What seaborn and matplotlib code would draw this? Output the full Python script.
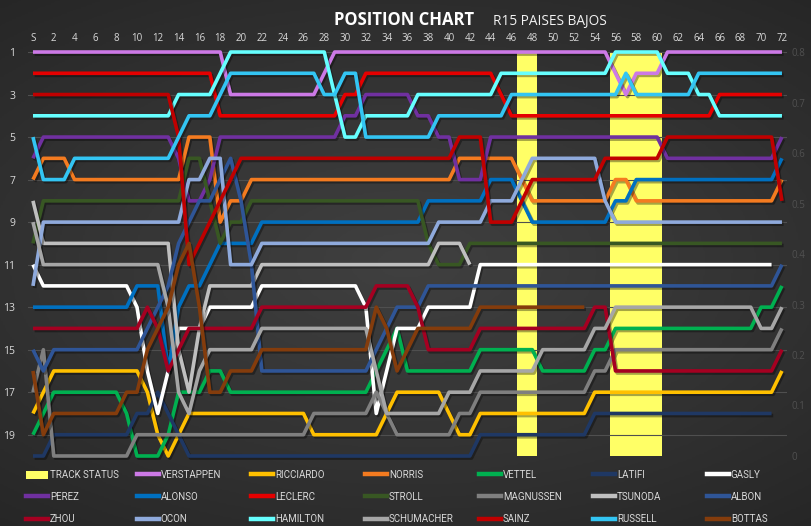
import numpy as np
import pandas as pd
import matplotlib
matplotlib.use('Agg')
import matplotlib.pyplot as plt
import matplotlib.patheffects as pe
from matplotlib.lines import Line2D
from matplotlib.patches import Patch
from matplotlib.colors import LinearSegmentedColormap
import seaborn as sns

# series order as in the source legend (row by row)
drivers = ['VERSTAPPEN', 'RICCIARDO', 'NORRIS', 'VETTEL', 'LATIFI', 'GASLY',
           'PEREZ', 'ALONSO', 'LECLERC', 'STROLL', 'MAGNUSSEN', 'TSUNODA', 'ALBON',
           'ZHOU', 'OCON', 'HAMILTON', 'SCHUMACHER', 'SAINZ', 'RUSSELL', 'BOTTAS']
colors = ['#CC79E6', '#FFC000', '#F47B20', '#00B050', '#1F3864', '#FFFFFF',
          '#7030A0', '#0070C0', '#E50000', '#385723', '#7F7F7F', '#BFBFBF', '#2F5597',
          '#A50021', '#8FAADC', '#66FFFF', '#A6A6A6', '#C00000', '#33C5F3', '#843C0C']

# race position per lap, index 0 = start (S)
verstappen = [1, 1, 1, 1, 1, 1, 1, 1, 1, 1, 1, 1, 1, 1, 1, 1, 1, 1, 1, 3,
              3, 3, 3, 3, 3, 3, 3, 3, 2, 1, 1, 1, 1, 1, 1, 1, 1, 1, 1, 1,
              1, 1, 1, 1, 1, 1, 1, 1, 1, 1, 1, 1, 1, 1, 1, 1, 2, 3, 2, 2,
              2, 1, 1, 1, 1, 1, 1, 1, 1, 1, 1, 1, 1]
ricciardo = [18, 17, 16, 16, 16, 16, 16, 16, 16, 16, 16, 17, 19, 20, 19, 18, 18, 18, 18, 18,
             18, 18, 18, 18, 18, 18, 18, 19, 19, 19, 19, 19, 19, 19, 18, 17, 17, 17, 17, 17,
             18, 19, 19, 18, 18, 18, 18, 18, 18, 18, 18, 18, 18, 18, 17, 17, 17, 17, 17, 17,
             17, 17, 17, 17, 17, 17, 17, 17, 17, 17, 17, 17, 16]
norris = [7, 6, 6, 6, 7, 7, 7, 7, 7, 7, 7, 7, 7, 7, 7, 5, 5, 5, 9, 8,
          8, 7, 7, 7, 7, 7, 7, 7, 7, 7, 7, 7, 7, 7, 7, 7, 7, 7, 7, 7,
          7, 6, 6, 6, 6, 6, 6, 7, 8, 8, 8, 8, 8, 8, 8, 8, 7, 7, 8, 8,
          8, 8, 8, 8, 8, 8, 8, 8, 8, 8, 8, 8, 7]
vettel = [19, 18, 17, 17, 17, 17, 17, 17, 17, 18, 20, 20, 20, 19, 17, 17, 17, 16, 16, 17,
          17, 17, 17, 17, 17, 17, 17, 17, 17, 17, 17, 17, 17, 16, 15, 14, 16, 16, 16, 16,
          16, 16, 16, 15, 15, 15, 15, 15, 15, 16, 16, 16, 16, 16, 15, 15, 14, 14, 14, 14,
          14, 14, 14, 14, 14, 14, 14, 14, 14, 14, 13, 13, 12]
latifi = [20, 20, 19, 19, 19, 19, 19, 19, 19, 19, 18, 18, 17, 18, 19, 20, 20, 20, 20, 20,
          20, 20, 20, 20, 20, 20, 20, 20, 20, 20, 20, 20, 20, 20, 20, 20, 20, 20, 20, 20,
          20, 20, 20, 19, 19, 19, 19, 19, 19, 19, 19, 19, 19, 19, 18, 18, 18, 18, 18, 18,
          18, 18, 18, 18, 18, 18, 18, 18, 18, 18, 18, 18]
gasly = [11, 12, 12, 12, 12, 12, 12, 12, 12, 12, 13, 16, 18, 16, 14, 14, 14, 13, 13, 13,
         13, 13, 12, 12, 12, 12, 12, 12, 12, 12, 12, 12, 13, 18, 16, 14, 14, 14, 13, 13,
         13, 13, 13, 11, 11, 11, 11, 11, 11, 11, 11, 11, 11, 11, 11, 11, 11, 11, 11, 11,
         11, 11, 11, 11, 11, 11, 11, 11, 11, 11, 11, 11]
perez = [6, 5, 5, 5, 5, 5, 5, 5, 5, 5, 5, 5, 5, 5, 6, 8, 8, 7, 5, 5,
         5, 5, 5, 5, 5, 5, 5, 5, 5, 5, 4, 4, 3, 3, 3, 3, 3, 4, 4, 5,
         5, 7, 7, 7, 5, 5, 5, 5, 5, 5, 5, 5, 5, 5, 5, 5, 5, 5, 5, 5,
         5, 6, 6, 6, 6, 6, 6, 6, 6, 6, 6, 6, 5]
alonso = [13, 13, 13, 13, 13, 13, 13, 13, 13, 13, 12, 12, 12, 16, 13, 12, 12, 11, 10, 10,
          10, 10, 9, 9, 9, 9, 9, 9, 9, 9, 9, 9, 9, 9, 9, 9, 9, 9, 8, 8,
          8, 8, 8, 8, 7, 7, 7, 8, 9, 9, 9, 9, 9, 9, 9, 9, 8, 8, 7, 7,
          7, 7, 7, 7, 7, 7, 7, 7, 7, 7, 7, 7, 6]
leclerc = [2, 2, 2, 2, 2, 2, 2, 2, 2, 2, 2, 2, 2, 2, 2, 2, 2, 2, 4, 4,
           4, 4, 4, 4, 4, 4, 4, 4, 4, 4, 3, 3, 2, 2, 2, 2, 2, 2, 2, 2,
           2, 2, 2, 2, 2, 3, 4, 4, 4, 4, 4, 4, 4, 4, 4, 4, 4, 4, 4, 4,
           4, 4, 4, 4, 4, 4, 3, 3, 3, 3, 3, 3, 3]
stroll = [10, 8, 8, 8, 8, 8, 8, 8, 8, 8, 8, 8, 8, 8, 8, 6, 6, 8, 10, 9,
          9, 8, 8, 8, 8, 8, 8, 8, 8, 8, 8, 8, 8, 8, 8, 8, 8, 8, 10, 11,
          11, 11, 10, 10, 10, 10, 10, 10, 10, 10, 10, 10, 10, 10, 10, 10, 10, 10, 10, 10,
          10, 10, 10, 10, 10, 10, 10, 10, 10, 10, 10, 10, 10]
magnussen = [17, 15, 20, 20, 20, 20, 20, 20, 20, 20, 19, 19, 19, 19, 19, 19, 19, 19, 19, 19,
             19, 19, 19, 19, 19, 19, 19, 18, 18, 18, 18, 18, 18, 17, 18, 19, 19, 19, 19, 19,
             19, 18, 18, 17, 17, 17, 17, 17, 17, 17, 17, 17, 17, 17, 16, 16, 15, 15, 15, 15,
             15, 15, 15, 15, 15, 15, 15, 15, 15, 15, 15, 15, 14]
tsunoda = [8, 10, 10, 10, 10, 10, 10, 10, 10, 10, 10, 10, 10, 10, 15, 17, 14, 12, 12, 12,
           12, 12, 11, 11, 11, 11, 11, 11, 11, 11, 11, 11, 11, 11, 11, 11, 11, 11, 11, 10,
           10, 10, 11]
albon = [15, 16, 15, 15, 15, 15, 15, 15, 15, 15, 15, 14, 13, 12, 10, 9, 8, 8, 7, 6,
         8, 11, 16, 16, 16, 16, 16, 16, 16, 16, 16, 16, 16, 15, 14, 13, 13, 13, 12, 12,
         12, 12, 12, 12, 12, 12, 12, 12, 12, 12, 12, 12, 12, 12, 12, 12, 12, 12, 12, 12,
         12, 12, 12, 12, 12, 12, 12, 12, 12, 12, 12, 12, 11]
zhou = [14, 14, 14, 14, 14, 14, 14, 14, 14, 14, 14, 13, 14, 16, 15, 14, 14, 14, 14, 14,
        14, 14, 13, 13, 13, 13, 13, 13, 13, 13, 13, 13, 13, 12, 12, 12, 12, 13, 15, 15,
        15, 15, 15, 14, 14, 14, 14, 14, 14, 14, 14, 14, 14, 14, 13, 13, 16, 16, 16, 16,
        16, 16, 16, 16, 16, 16, 16, 16, 16, 16, 16, 16, 15]
ocon = [12, 9, 9, 9, 9, 9, 9, 9, 9, 9, 9, 9, 9, 9, 9, 7, 7, 6, 6, 11,
        11, 11, 10, 10, 10, 10, 10, 10, 10, 10, 10, 10, 10, 10, 10, 10, 10, 10, 10, 9,
        9, 9, 9, 9, 8, 8, 8, 7, 6, 6, 6, 6, 6, 6, 6, 8, 9, 9, 9, 9,
        9, 9, 9, 9, 9, 9, 9, 9, 9, 9, 9, 9, 9]
hamilton = [4, 4, 4, 4, 4, 4, 4, 4, 4, 4, 4, 4, 4, 4, 3, 3, 3, 3, 2, 1,
            1, 1, 1, 1, 1, 1, 1, 1, 1, 3, 5, 5, 4, 4, 4, 4, 4, 3, 3, 3,
            3, 3, 3, 3, 3, 2, 2, 2, 2, 2, 2, 2, 2, 2, 2, 2, 1, 1, 1, 1,
            1, 2, 2, 2, 3, 3, 4, 4, 4, 4, 4, 4, 4]
schumacher = [9, 11, 11, 11, 11, 11, 11, 11, 11, 11, 11, 11, 11, 13, 17, 18, 16, 15, 15, 15,
              15, 15, 14, 14, 14, 14, 14, 14, 14, 14, 14, 14, 14, 16, 18, 18, 18, 18, 18, 18,
              17, 17, 17, 16, 16, 16, 16, 16, 16, 15, 15, 15, 15, 15, 14, 14, 13, 13, 13, 13,
              13, 13, 13, 13, 13, 13, 13, 13, 13, 13, 14, 14, 13]
sainz = [3, 3, 3, 3, 3, 3, 3, 3, 3, 3, 3, 3, 3, 3, 5, 11, 10, 9, 8, 7,
         6, 6, 6, 6, 6, 6, 6, 6, 6, 6, 6, 6, 6, 6, 6, 6, 6, 6, 6, 6,
         6, 5, 5, 5, 9, 9, 9, 8, 7, 7, 7, 7, 7, 7, 7, 6, 6, 6, 6, 6,
         6, 5, 5, 5, 5, 5, 5, 5, 5, 5, 5, 5, 8]
russell = [5, 7, 7, 7, 6, 6, 6, 6, 6, 6, 6, 6, 6, 6, 5, 4, 4, 4, 3, 2,
           2, 2, 2, 2, 2, 2, 2, 2, 3, 3, 2, 2, 5, 5, 5, 5, 5, 5, 5, 4,
           4, 4, 4, 4, 4, 4, 3, 3, 3, 3, 3, 3, 3, 3, 3, 3, 3, 2, 3, 3,
           3, 3, 3, 3, 2, 2, 2, 2, 2, 2, 2, 2, 2]
bottas = [16, 19, 18, 18, 18, 18, 18, 18, 18, 17, 17, 15, 14, 13, 11, 10, 13, 17, 17, 16,
          16, 16, 15, 15, 15, 15, 15, 15, 15, 15, 15, 15, 15, 13, 14, 16, 15, 14, 14, 14,
          14, 14, 14, 13, 13, 13, 13, 13, 13, 13, 13, 13, 13, 13]

positions = [verstappen, ricciardo, norris, vettel, latifi, gasly, perez, alonso,
             leclerc, stroll, magnussen, tsunoda, albon, zhou, ocon, hamilton,
             schumacher, sainz, russell, bottas]

# track status (VSC / safety car laps), secondary axis
status_laps = [47, 48, 56, 57, 58, 59, 60]
status_vals = [0.8, 0.8, 0.8, 0.8, 0.8, 0.8, 0.8]

lap_ticks = list(range(0, 73, 2))
lap_labels = ['S'] + [str(v) for v in lap_ticks[1:]]
status_ticks = [0, 0.1, 0.2, 0.3, 0.4, 0.5, 0.6, 0.7, 0.8]
status_labels = ['0', '0.1', '0.2', '0.3', '0.4', '0.5', '0.6', '0.7', '0.8']

rows = []
for name, pos in zip(drivers, positions):
    for lap, p in enumerate(pos):
        rows.append((name, lap, p))
df = pd.DataFrame(rows, columns=['driver', 'lap', 'pos'])
palette = dict(zip(drivers, colors))

plt.rcParams['font.family'] = ['Open Sans', 'DejaVu Sans']
txt_col = '#D9D9D9'

fig = plt.figure(figsize=(8.12, 5.26), dpi=100)

# dark radial background
bg = fig.add_axes([0, 0, 1, 1], zorder=-10)
yy, xx = np.mgrid[-1:1:300j, -1:1:460j]
rr = np.sqrt((xx * 0.9) ** 2 + (yy * 1.1) ** 2)
bg_cmap = LinearSegmentedColormap.from_list('bg', ['#404040', '#343434', '#262626'])
bg.imshow(rr, cmap=bg_cmap, aspect='auto', extent=[0, 1, 0, 1], vmin=0, vmax=1.45)
bg.axis('off')

ax = fig.add_axes([0.0342, 0.1331, 0.9352, 0.768])
ax2 = ax.twinx()
ax.set_zorder(ax2.get_zorder() + 1)
ax.patch.set_visible(False)
ax2.patch.set_visible(False)

# track status bars
ax2.bar(status_laps, status_vals, width=1.0, color='#FFFF66', zorder=2)
ax2.set_ylim(0, 0.8)
ax2.set_yticks(status_ticks)
ax2.set_yticklabels(status_labels)
ax2.tick_params(axis='y', length=0, colors='#505050', labelsize=7, pad=3)

# driver lines
sns.lineplot(data=df, x='lap', y='pos', hue='driver', hue_order=drivers,
             palette=palette, linewidth=2.6, estimator=None, sort=False,
             legend=False, ax=ax)
for line in ax.lines:
    line.set_clip_on(False)
    line.set_solid_capstyle('butt')
    line.set_path_effects([pe.SimpleLineShadow(offset=(1.2, -1.5), shadow_color='black', alpha=0.35),
                           pe.Normal()])

ax.set_xlim(-0.5, 72.5)
ax.set_ylim(20, 1)
ax.set_yticks(list(range(1, 20, 2)))
ax.set_xticks(lap_ticks)
ax.set_xticklabels(lap_labels)
ax.xaxis.tick_top()
ax.tick_params(axis='x', length=0, colors=txt_col, labelsize=7, pad=6)
ax.tick_params(axis='y', length=0, colors=txt_col, labelsize=7.5, pad=9)
ax.grid(axis='y', color='#4F4F4F', linewidth=0.8)
ax.grid(axis='x', visible=False)
ax.set_xlabel('')
ax.set_ylabel('')
for a in (ax, ax2):
    for s in a.spines.values():
        s.set_visible(False)

# titles
fig.text(0.4975, 0.962, 'POSITION CHART', color='white', fontsize=12,
         fontweight='bold', ha='center', va='center')
fig.text(0.607, 0.960, 'R15 PAISES BAJOS', color='#F2F2F2', fontsize=9.8,
         ha='left', va='center')

# legend: 3 rows x 7 columns at a fixed pitch, filled row by row
labels = ['TRACK STATUS'] + drivers
handles = [Patch(facecolor='#FFFF66', edgecolor='none')] + \
          [Line2D([0], [0], color=c, linewidth=3.2) for c in colors]
col_x = [26, 137, 251, 365, 479, 593, 707]
for c, xpix in enumerate(col_x):
    idx = [r * 7 + c for r in range(3)]
    leg = fig.legend([handles[i] for i in idx], [labels[i] for i in idx],
                     loc='upper left', bbox_to_anchor=(xpix / 812, 1 - 470 / 526),
                     frameon=False, fontsize=7, labelcolor=txt_col,
                     handlelength=2.3, handleheight=0.9, handletextpad=0.15,
                     labelspacing=1.25, borderpad=0, borderaxespad=0)
    for t in leg.get_texts():
        t.set_family(['Roboto', 'DejaVu Sans'])

fig.savefig('out.png', dpi=100)
